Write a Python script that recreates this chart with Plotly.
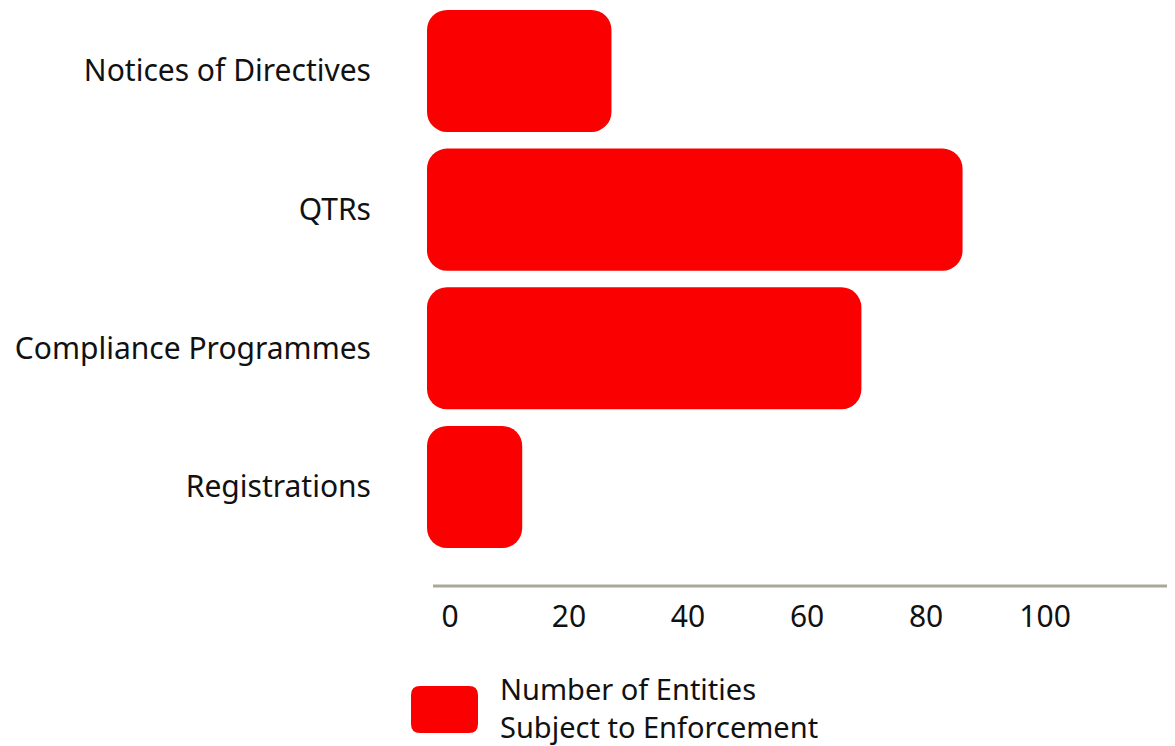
import plotly.graph_objects as go

categories = ["Notices of Directives", "QTRs", "Compliance Programmes", "Registrations"]
entities = [31, 90, 73, 16]
tick_vals = [0, 20, 40, 60, 80, 100]
series_name = "Number of Entities<br>Subject to Enforcement"

red = "#fb0000"
font = "Noto Sans"
ink = "#111111"
OFF = 8  # page body margin around the figure
W, H = 1175 - OFF, 746 - OFF
ml, mr, mt, mb = 427 - OFF, 0, 0, 160

fig = go.Figure()
# an explicit base makes plotly round every corner of the bar
fig.add_trace(go.Bar(
    y=categories, x=entities, base=[0] * len(entities), orientation="h",
    name="Number of Entities Subject to Enforcement",
    marker=dict(color=red, cornerradius=20, line=dict(width=0)),
    showlegend=False))

# page pixel -> paper coords
pw, ph = W - ml - mr, H - mt - mb
def px(x): return (x - OFF - ml) / pw
def py(y): return (H - mb - (y - OFF)) / ph

# axis line starts a little right of the bars
fig.add_shape(type="line", xref="paper", yref="paper", x0=px(433), x1=1,
              y0=0, y1=0, line=dict(color="#aca898", width=3))

# legend drawn by hand (rounded swatch + two line label)
x0, x1, y0, y1, r = 411, 478, 686, 733, 9
path = (f"M {px(x0 + r)},{py(y0)} L {px(x1 - r)},{py(y0)} "
        f"Q {px(x1)},{py(y0)} {px(x1)},{py(y0 + r)} L {px(x1)},{py(y1 - r)} "
        f"Q {px(x1)},{py(y1)} {px(x1 - r)},{py(y1)} L {px(x0 + r)},{py(y1)} "
        f"Q {px(x0)},{py(y1)} {px(x0)},{py(y1 - r)} L {px(x0)},{py(y0 + r)} "
        f"Q {px(x0)},{py(y0)} {px(x0 + r)},{py(y0)} Z")
fig.add_shape(type="path", path=path, xref="paper", yref="paper",
              fillcolor=red, line=dict(width=0))
fig.add_annotation(text=series_name, xref="paper", yref="paper",
                   x=px(498), y=py(707), xanchor="left", yanchor="middle",
                   align="left", showarrow=False,
                   font=dict(family=font, size=29, color=ink))

fig.update_layout(
    width=W, height=H, bargap=0.12,
    margin=dict(l=ml, r=mr, t=mt, b=mb, pad=0),
    plot_bgcolor="white", paper_bgcolor="white",
    font=dict(family=font, size=30, color=ink),
    xaxis=dict(range=[0, 125.7], tickvals=tick_vals, showgrid=False,
               zeroline=False, showline=False,
               ticks="", ticklabelshift=23, ticklabelstandoff=10,
               tickfont=dict(family=font, size=30, color=ink)),
    yaxis=dict(type="category", range=[3.714, -0.454], showgrid=False,
               zeroline=False, showline=False, ticks="", ticklabelstandoff=55,
               tickfont=dict(family=font, size=30, color=ink)),
)

fig.write_html("out.html")
